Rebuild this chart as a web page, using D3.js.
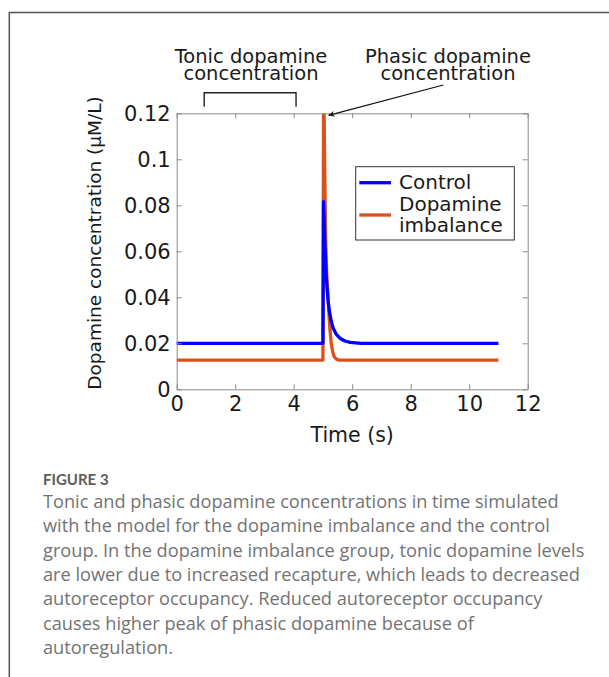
<!DOCTYPE html>
<html>
<head>
<meta charset="utf-8">
<script src="https://cdn.jsdelivr.net/npm/d3@7"></script>
<style>
  html, body { margin: 0; padding: 0; background: #fff; }
  svg { display: block; }
  .chart text { font-family: "DejaVu Sans", sans-serif; fill: #1a1a1a; }
  .axis path, .axis line { stroke: #8a8a8a; }
  .caption text { font-family: "Open Sans", Lato, sans-serif; fill: #737373; }
</style>
</head>
<body>
<svg id="fig" width="609" height="677"></svg>
<script>
// control group (blue)
const controlTime  = [0, 5.0, 5.02, 5.05, 5.08, 5.11, 5.14, 5.18, 5.22, 5.28, 5.35, 5.45, 5.58, 5.75, 5.93, 6.3, 11];
const controlValue = [0.02, 0.02, 0.0816, 0.07, 0.058, 0.05, 0.044, 0.038, 0.034, 0.0298, 0.0265, 0.024, 0.0222, 0.021, 0.0204, 0.02, 0.02];
// dopamine imbalance group (orange)
const imbalanceTime  = [0, 5.0, 5.02, 5.04, 5.07, 5.1, 5.13, 5.16, 5.2, 5.24, 5.28, 5.33, 5.38, 5.45, 5.55, 11];
const imbalanceValue = [0.0127, 0.0127, 0.1193, 0.1193, 0.085, 0.062, 0.05, 0.043, 0.034, 0.026, 0.0205, 0.0165, 0.0143, 0.0132, 0.0127, 0.0127];

const seriesNames  = ["Control", "Dopamine\nimbalance"];
const seriesColors = ["#0000ff", "#d95319"];

const xTicks = [0, 2, 4, 6, 8, 10, 12];
const yTicks = [0, 0.02, 0.04, 0.06, 0.08, 0.1, 0.12];
const yTickLabels = ["0", "0.02", "0.04", "0.06", "0.08", "0.1", "0.12"];

const captionTitle = "FIGURE 3";
const captionLines = [
  "Tonic and phasic dopamine concentrations in time simulated",
  "with the model for the dopamine imbalance and the control",
  "group. In the dopamine imbalance group, tonic dopamine levels",
  "are lower due to increased recapture, which leads to decreased",
  "autoreceptor occupancy. Reduced autoreceptor occupancy",
  "causes higher peak of phasic dopamine because of",
  "autoregulation."
];

function zip(ts, vs){
  return ts.map((t, i) => ({t: t, v: vs[i]}));
}

function draw(){
  const svg = d3.select('#fig');

  // frame round the figure
  svg.append('path')
    .attr('d', 'M9.3,677V12.5H609')
    .attr('fill', 'none')
    .attr('stroke', '#555')
    .attr('stroke-width', 1.5);

  const x = d3.scaleLinear().domain([0, 12]).range([176.7, 527.7]);
  const y = d3.scaleLinear().domain([0, 0.12]).range([389.3, 113.3]);

  const g = svg.append('g').attr('class', 'chart');

  // orange under blue, as in the figure
  const line = d3.line().x(d => x(d.t)).y(d => y(d.v));
  const series = [zip(controlTime, controlValue), zip(imbalanceTime, imbalanceValue)];
  const order = [1, 0];

  g.selectAll('.series')
    .data(order)
    .join('path')
      .attr('class', 'series')
      .attr('d', i => line(series[i]))
      .attr('fill', 'none')
      .attr('stroke', i => seriesColors[i])
      .attr('stroke-width', 3.3)
      .attr('stroke-linejoin', 'round');

  g.append('g').attr('class', 'axis')
    .attr('transform', `translate(0,${y(0)})`)
    .call(d3.axisBottom(x).tickValues(xTicks).tickSizeInner(-5).tickSizeOuter(0).tickPadding(7));
  g.append('g').attr('class', 'axis')
    .attr('transform', `translate(0,${y(0.12)})`)
    .call(d3.axisTop(x).tickValues(xTicks).tickSizeInner(-5).tickSizeOuter(0).tickFormat(''));
  g.append('g').attr('class', 'axis')
    .attr('transform', `translate(${x(0)},0)`)
    .call(d3.axisLeft(y).tickValues(yTicks).tickSizeInner(-5).tickSizeOuter(0).tickPadding(6)
      .tickFormat((d, i) => yTickLabels[i]));
  g.append('g').attr('class', 'axis')
    .attr('transform', `translate(${x(12)},0)`)
    .call(d3.axisRight(y).tickValues(yTicks).tickSizeInner(-5).tickSizeOuter(0).tickFormat(''));

  g.selectAll('.axis text')
    .attr('font-size', 21)
    .attr('font-family', '"DejaVu Sans", sans-serif')
    .attr('fill', '#1a1a1a');

  // axis titles
  g.append('text')
    .attr('x', (x(0) + x(12)) / 2)
    .attr('y', 441.7)
    .attr('text-anchor', 'middle')
    .attr('font-size', 20.5)
    .text('Time (s)');

  g.append('text')
    .attr('transform', 'translate(101,243) rotate(-90)')
    .attr('text-anchor', 'middle')
    .attr('font-size', 18.5)
    .text('Dopamine concentration (μM/L)');

  // legend
  const legend = g.append('g');
  legend.append('rect')
    .attr('x', 355.7).attr('y', 166.7)
    .attr('width', 158.6).attr('height', 73.3)
    .attr('fill', '#fff')
    .attr('stroke', '#333')
    .attr('stroke-width', 1);
  const lineY = [182.7, 215];
  const textY = [[189.3], [210.5, 231.7]];
  seriesNames.forEach((name, i) => {
    legend.append('line')
      .attr('x1', 359.3).attr('x2', 391)
      .attr('y1', lineY[i]).attr('y2', lineY[i])
      .attr('stroke', seriesColors[i])
      .attr('stroke-width', 3.3);
    name.split('\n').forEach((part, j) => {
      legend.append('text')
        .attr('x', 399)
        .attr('y', textY[i][j])
        .attr('font-size', 20)
        .text(part);
    });
  });

  // annotations
  const notes = [
    {lines: ['Tonic dopamine', 'concentration'], cx: 251},
    {lines: ['Phasic dopamine', 'concentration'], cx: 448}
  ];
  notes.forEach(n => {
    n.lines.forEach((s, j) => {
      g.append('text')
        .attr('x', n.cx)
        .attr('y', 62.5 + j * 17.5)
        .attr('text-anchor', 'middle')
        .attr('font-size', 19.5)
        .text(s);
    });
  });

  g.append('path')
    .attr('d', `M${x(0.94)},106.7V92.7H${x(4.08)}V106.7`)
    .attr('fill', 'none')
    .attr('stroke', '#222')
    .attr('stroke-width', 1.4);

  svg.append('defs').append('marker')
    .attr('id', 'head')
    .attr('viewBox', '0 0 10 10')
    .attr('refX', 10).attr('refY', 5)
    .attr('markerWidth', 9).attr('markerHeight', 6)
    .attr('markerUnits', 'userSpaceOnUse')
    .attr('orient', 'auto')
    .append('path')
      .attr('d', 'M0,0L10,5L0,10L3,5Z')
      .attr('fill', '#111');

  g.append('line')
    .attr('x1', 443.3).attr('y1', 85)
    .attr('x2', 328.5).attr('y2', 115.3)
    .attr('stroke', '#111')
    .attr('stroke-width', 1.2)
    .attr('marker-end', 'url(#head)');

  // caption
  const cap = svg.append('g').attr('class', 'caption');
  cap.append('text')
    .attr('x', 43).attr('y', 485)
    .attr('font-size', 15)
    .attr('font-weight', 700)
    .style('font-family', 'Lato, "Open Sans", sans-serif')
    .style('fill', '#5c5c5c')
    .text(captionTitle);
  cap.selectAll('.line')
    .data(captionLines)
    .join('text')
      .attr('class', 'line')
      .attr('x', 43)
      .attr('y', (d, i) => 508 + i * 24.3)
      .attr('font-size', 18.2)
      .text(d => d);
}

window.onload = draw;
</script>
</body>
</html>
